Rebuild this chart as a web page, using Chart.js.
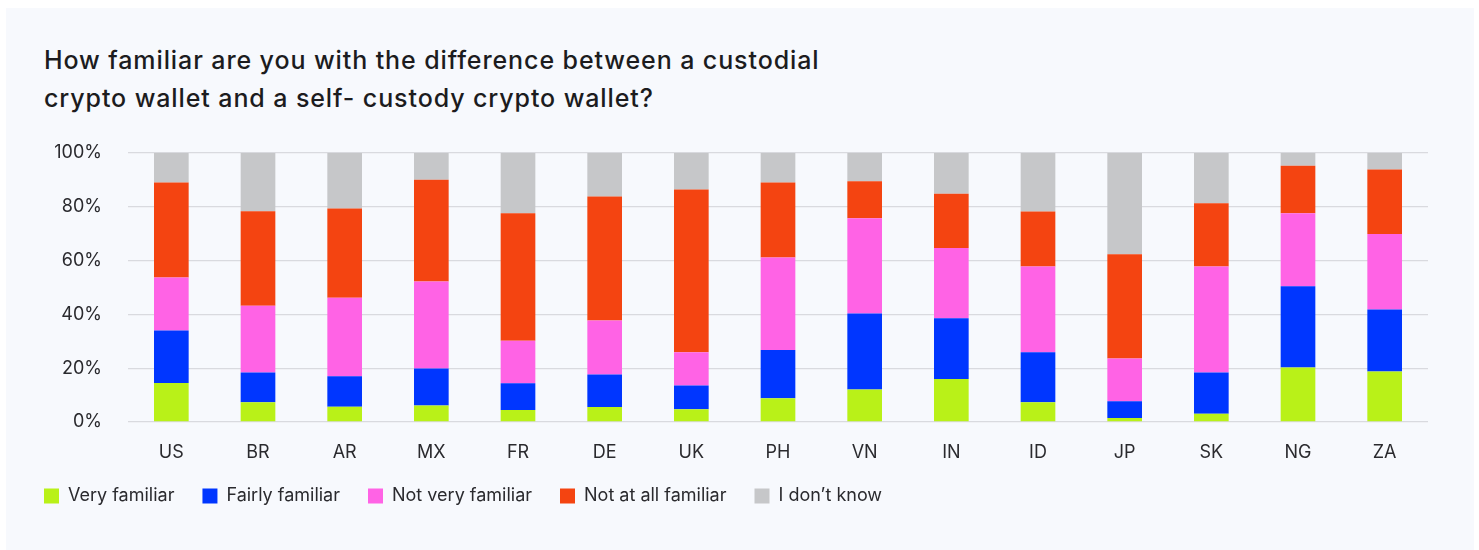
<!DOCTYPE html>
<html>
<head>
<meta charset="utf-8">
<script src="https://cdn.jsdelivr.net/npm/chart.js@4"></script>
<style>
  body { margin: 0; background: #ffffff; font-family: Inter, "Noto Sans", sans-serif; }
  .card { position: absolute; left: 6px; top: 8px; width: 1468px; height: 542px; background: #f7f9fd; }
  h2 { position: absolute; left: 44px; top: 41px; margin: 0; font-size: 25px; letter-spacing: 0.9px; line-height: 38px; font-weight: 500; color: #1c1c1e; }
  #wrap { position: absolute; left: 0; top: 116px; width: 1479px; height: 434px; }
</style>
</head>
<body>
<div class="card"></div>
<h2>How familiar are you with the difference between a custodial<br>crypto wallet and a self- custody crypto wallet?</h2>
<div id="wrap"><canvas id="myChart" width="1479" height="434"></canvas></div>
<script>
const countries = ["US", "BR", "AR", "MX", "FR", "DE", "UK", "PH", "VN", "IN", "ID", "JP", "SK", "NG", "ZA"];

// share of respondents per answer, in percent
const veryFamiliar   = [14.5, 7.3, 5.7, 6.1, 4.5, 5.6, 4.7, 8.8, 12.1, 16.0, 7.3, 1.5, 3.1, 20.2, 18.8];
const fairlyFamiliar = [19.5, 11.1, 11.3, 13.8, 9.9, 12.0, 8.9, 17.9, 28.2, 22.5, 18.6, 6.2, 15.3, 30.2, 23.0];
const notVery        = [19.7, 24.8, 29.2, 32.3, 15.8, 20.1, 12.3, 34.4, 35.4, 26.1, 31.9, 15.9, 39.4, 27.1, 28.0];
const notAtAll       = [35.3, 35.1, 33.1, 37.8, 47.3, 46.1, 60.5, 27.9, 13.7, 20.2, 20.4, 38.7, 23.5, 17.7, 24.0];
const dontKnow       = [11.0, 21.7, 20.7, 10.0, 22.5, 16.2, 13.6, 11.0, 10.6, 15.2, 21.8, 37.7, 18.7, 4.8, 6.2];

const yTicks = [0, 20, 40, 60, 80, 100];

const textColor = "#2a2a2e";
const font = { family: "Inter, 'Noto Sans', sans-serif", size: 18 };

function series(label, data, color) {
	return {
		label: label,
		data: data,
		backgroundColor: color,
		borderWidth: 0,
		barPercentage: 0.4,
		categoryPercentage: 1
	};
}

const chart = new Chart(document.getElementById("myChart"), {
	type: "bar",
	data: {
		labels: countries,
		datasets: [
			series("Very familiar", veryFamiliar, "#b9f118"),
			series("Fairly familiar", fairlyFamiliar, "#0036ff"),
			series("Not very familiar", notVery, "#ff63e5"),
			series("Not at all familiar", notAtAll, "#f44411"),
			series("I don\u2019t know", dontKnow, "#c6c7c9")
		]
	},
	options: {
		responsive: false,
		animation: false,
		layout: { padding: { left: 16, right: 51, top: 36, bottom: 35 } },
		scales: {
			x: {
				stacked: true,
				grid: { display: false, drawTicks: false },
				border: { display: false },
				ticks: { color: textColor, font: font, padding: 20 },
				afterFit: axis => { axis.height = 37; }
			},
			y: {
				stacked: true,
				min: 0,
				max: 100,
				afterBuildTicks: axis => { axis.ticks = yTicks.map(v => ({ value: v })); },
				grid: { color: "#d9dadf", lineWidth: 1.3, drawTicks: false },
				border: { display: false },
				ticks: { color: textColor, font: font, padding: 26, callback: v => v + "%" },
				afterFit: axis => { axis.width = 112; }
			}
		},
		plugins: {
			tooltip: { enabled: false },
			legend: {
				position: "bottom",
				align: "start",
				labels: {
					color: textColor,
					font: font,
					boxWidth: 15,
					boxHeight: 15,
					padding: 28
				}
			}
		}
	}
});
</script>
</body>
</html>
